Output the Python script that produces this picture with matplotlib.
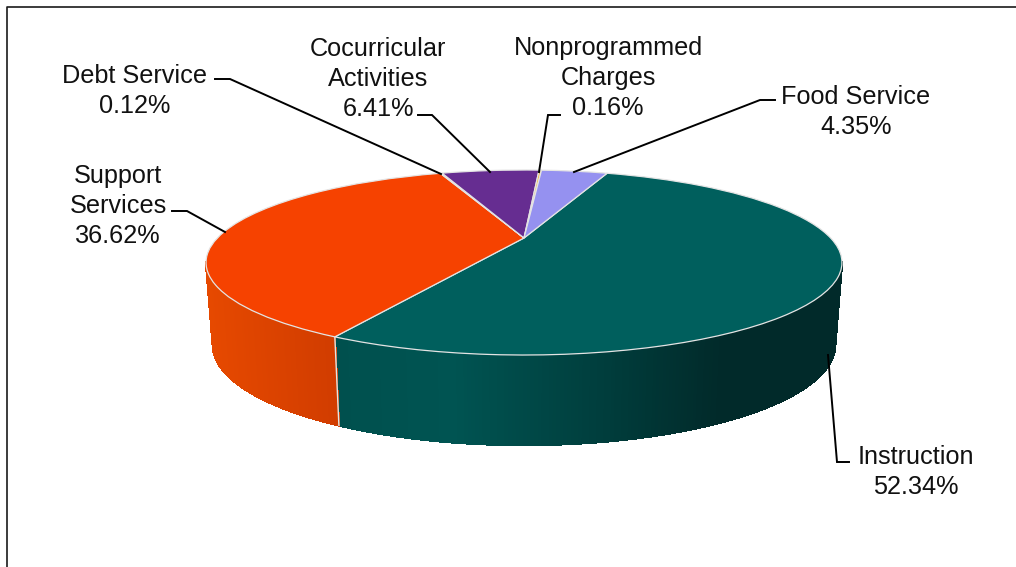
import numpy as np
import matplotlib
matplotlib.use("Agg")
import matplotlib.pyplot as plt
from matplotlib.transforms import Transform
from matplotlib.collections import PolyCollection

categories = ["Instruction", "Support Services", "Debt Service",
              "Cocurricular Activities", "Nonprogrammed Charges", "Food Service"]
values = [52.34, 36.62, 0.12, 6.41, 0.16, 4.35]
colors = ["#005f5d", "#f64200", "#f0e0a0", "#662d91", "#f5b942", "#9591f0"]
label_text = ["Instruction\n52.34%", "Support\nServices\n36.62%", "Debt Service\n0.12%",
              "Cocurricular\nActivities\n6.41%", "Nonprogrammed\nCharges\n0.16%",
              "Food Service\n4.35%"]
label_pos = [(916, 472), (118, 206), (135, 91), (378, 79), (608, 78), (856, 112)]
leaders = [[(849, 462), (837, 462), (828, 355)],
           [(172, 211), (187, 211), (225, 232)],
           [(215, 79), (230, 79), (441, 174)],
           [(418, 115), (432, 115), (490, 172)],
           [(560, 115), (548, 115), (539, 172)],
           [(775, 100), (760, 100), (574, 172)]]
start_cw_from_top = 19.8

plt.rcParams['font.family'] = ['Liberation Sans', 'DejaVu Sans']


class Perspective(Transform):
    input_dims = output_dims = 2
    has_inverse = False

    def __init__(self, cx, y0, A, B, c):
        super().__init__()
        self.p = (cx, y0, A, B, c)

    def transform_non_affine(self, xy):
        cx, y0, A, B, c = self.p
        xy = np.asarray(xy, float)
        u, v = xy[:, 0], -xy[:, 1]
        d = 1 + c * v
        return np.column_stack((cx + A * u / d, y0 + B * v / d))


c = -0.265
top = Perspective(524, 238, 306.6, 86, c)
bottom = Perspective(524, 318.5, 300, 93, c)

fig = plt.figure(figsize=(10.16, 5.67), dpi=100)
ax = fig.add_axes([0, 0, 1, 1])

wedges, _ = ax.pie(values, colors=colors, startangle=90 - start_cw_from_top,
                   counterclock=False,
                   wedgeprops=dict(edgecolor="#e4e4e4", linewidth=0.9))
for w in wedges:
    w.set_transform(top + ax.transData)
    w.set_zorder(3)

ax.set_aspect('auto')
ax.set_xlim(0, 1016)
ax.set_ylim(567, 0)
ax.axis('off')

# Side wall: only the front-facing part of the slices
left_lim, right_lim = 254.6, 105.4
edges = start_cw_from_top + np.cumsum([0] + values) * 3.6
teal_x = [333, 450, 600, 720, 842]
teal_rgb = np.array([[0, 80, 78], [0, 84, 82], [0, 62, 61], [1, 42, 42], [1, 42, 42]]) / 255
orange_x = [206, 338]
orange_rgb = np.array([[230, 73, 0], [208, 60, 0]]) / 255
for i, ramp_x, ramp in [(0, teal_x, teal_rgb), (1, orange_x, orange_rgb)]:
    a0, a1 = max(edges[i], right_lim), min(edges[i + 1], left_lim)
    th = np.radians(np.linspace(a0, a1, 200))
    circ = np.column_stack((np.sin(th), np.cos(th)))
    t, b = top.transform(circ), bottom.transform(circ)
    quads = [[t[k], t[k + 1], b[k + 1], b[k]] for k in range(len(th) - 1)]
    xm = 0.5 * (t[:-1, 0] + t[1:, 0])
    cols = np.column_stack([np.interp(xm, ramp_x, ramp[:, j]) for j in range(3)])
    ax.add_collection(PolyCollection(quads, facecolors=cols, edgecolors=cols,
                                     linewidths=1.0, antialiaseds=False, zorder=2))
    if i == 0:
        ax.plot([t[-1, 0], b[-1, 0]], [t[-1, 1], b[-1, 1]], color="#dfe6e4", lw=1.0, zorder=2.5)

# Outer frame
ax.plot([6.5, 6.5, 1016], [567, 7, 7], color="#1a1a1a", lw=1.2, zorder=1, clip_on=False)

for txt, pos, pts in zip(label_text, label_pos, leaders):
    ax.text(pos[0], pos[1], txt, ha='center', va='center', fontsize=18.2,
            linespacing=1.33, color="#111111", zorder=6)
    xs, ys = zip(*pts)
    ax.plot(xs, ys, color="black", lw=1.4, zorder=5, solid_joinstyle='miter')

fig.savefig("out.png", dpi=100)
